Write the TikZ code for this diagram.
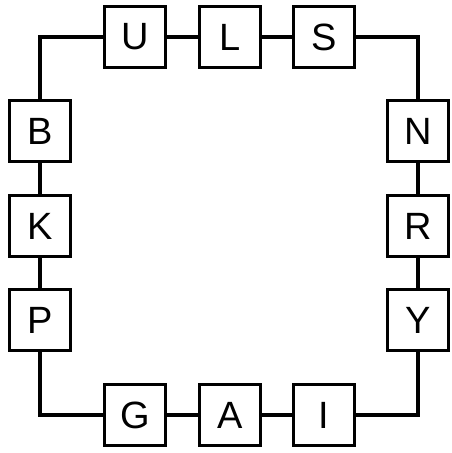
\documentclass[tikz,border=0pt]{standalone}
\usepackage{fontspec}
\setmainfont{Liberation Sans}
\usepackage{tikz}

\begin{document}
\begin{tikzpicture}[x=1pt,y=-1pt,
    every node/.style={draw,line width=2.5pt,minimum size=61pt,inner sep=0pt,font=\fontsize{38}{44}\selectfont},
    link/.style={line width=3.5pt}]
            \useasboundingbox (0,0) rectangle (452,453);
            \foreach \name/\x/\y in {U/135/37,L/230/37,S/324/37,B/40/131,K/40/226,P/40/320,
                N/418/131,R/418/226,Y/418/320,G/135/415,A/230/415,I/324/415}{
                \node (\name) at (\x,\y) {\name};
            }
            
            \draw[link] (U) -- (L) -- (S);
            \draw[link] (G) -- (A) -- (I);
            \draw[link] (B) -- (K) -- (P);
            \draw[link] (N) -- (R) -- (Y);
            \draw[link] (U) -| (B);
            \draw[link] (S) -| (N);
            \draw[link] (P) |- (G);
            \draw[link] (Y) |- (I);
        \end{tikzpicture}
\end{document}
